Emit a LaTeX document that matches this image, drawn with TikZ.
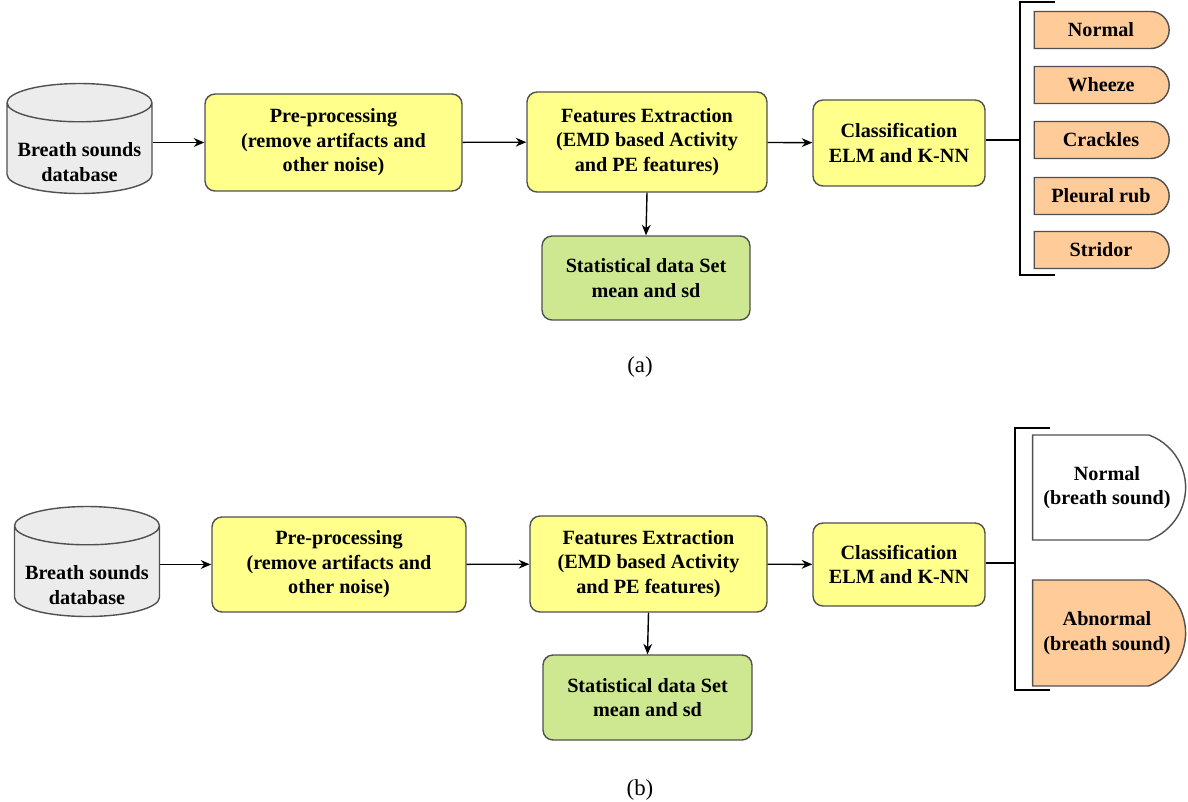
\documentclass[tikz,border=0pt]{standalone}
\usepackage{fontspec}
\setmainfont{Liberation Serif}[BoldFont={Liberation Serif Bold}]
\usetikzlibrary{shapes.geometric,shapes.misc,arrows.meta}

\definecolor{boxyel}{RGB}{255,255,140}
\definecolor{boxgrn}{RGB}{205,232,145}
\definecolor{boxorg}{RGB}{255,204,153}
\definecolor{dbgray}{RGB}{236,236,236}
\definecolor{edgegray}{RGB}{80,80,80}

\tikzset{
  procbox/.style={rectangle,rounded corners=0.2cm,draw=edgegray,line width=0.8pt,fill=boxyel,
    align=center,font=\fontsize{11.5}{14}\selectfont\bfseries,inner sep=2pt},
  statbox/.style={procbox,fill=boxgrn},
  dbase/.style={cylinder,shape border rotate=90,aspect=0.28,draw=edgegray,line width=0.8pt,
    cylinder uses custom fill,cylinder body fill=dbgray,cylinder end fill=dbgray,
    text width=2.5cm,minimum width=2.9cm,minimum height=2.2cm,anchor=shape center},
  dbtext/.style={align=center,font=\fontsize{11.5}{14}\selectfont\bfseries},
  leafbox/.style={rounded rectangle,rounded rectangle left arc=none,draw=edgegray,line width=0.8pt,
    fill=boxorg,align=center,font=\fontsize{11.5}{14}\selectfont\bfseries,inner sep=2pt},
  arr/.style={-{Stealth[length=6pt,width=5pt]},line width=0.8pt},
  brk/.style={line width=1.1pt},
  sublabel/.style={font=\fontsize{13}{15}\selectfont}
}

\begin{document}
\begin{tikzpicture}[x=0.02cm,y=-0.02cm]
\useasboundingbox (0,0) rectangle (1188,802);

\node[dbase] (dba) at (79.5,138.5) {};
\node[dbtext] (dbta) at (79.5,162) {Breath sounds\\database};
\node[procbox,minimum width=5.14cm,minimum height=1.94cm] (prea) at (333.5,142.5) {Pre-processing\\(remove artifacts and\\other noise)};
\node[procbox,minimum width=4.8cm,minimum height=2cm] (feaa) at (647,142) {Features Extraction\\(EMD based Activity\\and PE features)};
\node[statbox,minimum width=4.16cm,minimum height=1.68cm] (staa) at (646,278) {Statistical data Set\\mean and sd};
\node[procbox,minimum width=3.44cm,minimum height=1.72cm] (claa) at (899,143) {Classification\\ELM and K-NN};
\foreach \lab/\yy/\nm in {Normal/30/na,Wheeze/85/wa,Crackles/140/ca,Pleural rub/196/pa,Stridor/250/sa}
  \node[leafbox,minimum width=2.84cm,minimum height=0.74cm] (\nm) at (1101,\yy) {\lab};
\coordinate (bka) at (1020,140);
\node[sublabel] (laba) at (640,367) {(a)};

\draw[arr] (dba.east |- prea) -- (prea);
\draw[arr] (prea) -- (feaa);
\draw[arr] (feaa) -- (claa);
\draw[arr] (feaa.south) -- (staa.north);
\draw[line width=0.8pt] (claa.east |- bka) -- (bka);
\draw[brk] (1055,2) -- (1020,2) -- (1020,275) -- (1055,275);

\node[dbase] (dbb) at (87,561.5) {};
\node[dbtext] (dbtb) at (87,585) {Breath sounds\\database};
\node[procbox,minimum width=5.08cm,minimum height=1.9cm] (preb) at (339,564.5) {Pre-processing\\(remove artifacts and\\other noise)};
\node[procbox,minimum width=4.74cm,minimum height=1.92cm] (feab) at (648.5,564) {Features Extraction\\(EMD based Activity\\and PE features)};
\node[statbox,minimum width=4.18cm,minimum height=1.7cm] (stab) at (647.5,697.5) {Statistical data Set\\mean and sd};
\node[procbox,minimum width=3.44cm,minimum height=1.66cm] (clab) at (899,564.5) {Classification\\ELM and K-NN};
\node[leafbox,fill=white,rounded rectangle arc length=140,minimum width=3.2cm,minimum height=2.1cm] (nb) at (1107,487.5) {Normal\\(breath sound)};
\node[leafbox,rounded rectangle arc length=140,minimum width=3.2cm,minimum height=2.12cm] (ab) at (1107,633) {Abnormal\\(breath sound)};
\coordinate (bkb) at (1015,563);
\node[sublabel] (labb) at (640,790) {(b)};

\draw[arr] (dbb.east |- preb) -- (preb);
\draw[arr] (preb) -- (feab);
\draw[arr] (feab) -- (clab);
\draw[arr] (feab.south) -- (stab.north);
\draw[line width=0.8pt] (clab.east |- bkb) -- (bkb);
\draw[brk] (1050,428) -- (1015,428) -- (1015,690) -- (1050,690);
\end{tikzpicture}
\end{document}
